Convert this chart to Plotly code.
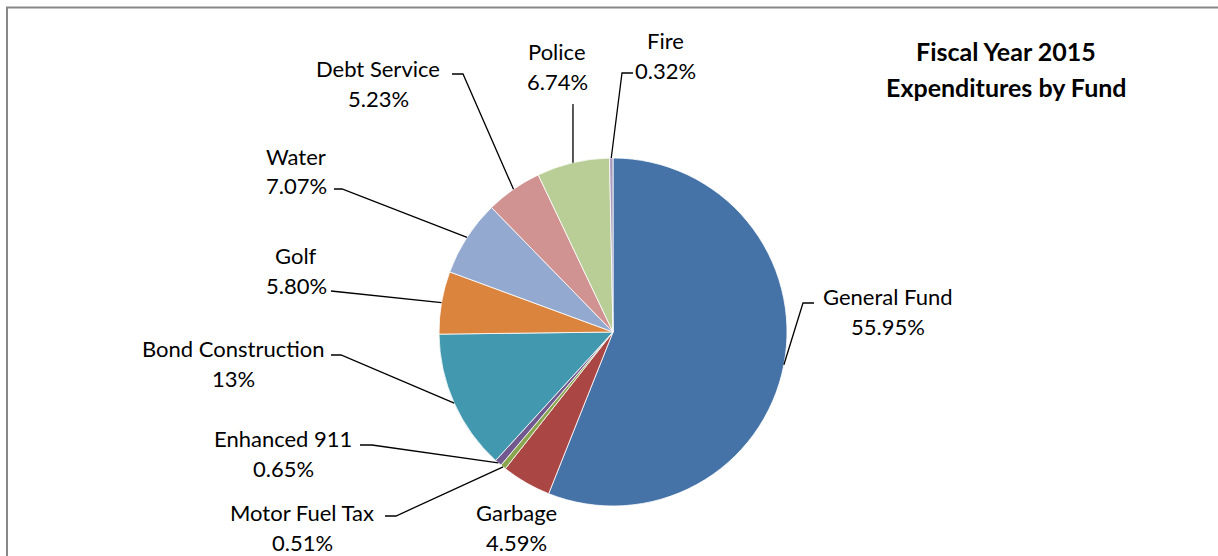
import math
import plotly.graph_objects as go

# Fund shares, clockwise from 12 o'clock
funds = ["General Fund", "Garbage", "Motor Fuel Tax", "Enhanced 911",
         "Bond Construction", "Golf", "Water", "Debt Service", "Police", "Fire"]
shares = [55.95, 4.59, 0.51, 0.65, 13.0, 5.80, 7.07, 5.23, 6.74, 0.32]
share_text = ["55.95%", "4.59%", "0.51%", "0.65%", "13%", "5.80%",
              "7.07%", "5.23%", "6.74%", "0.32%"]
colors = ["#4572A7", "#AA4643", "#89A54E", "#71588F", "#4198AF",
          "#DB843D", "#93A9CF", "#D19392", "#B9CD96", "#A99BBD"]

W, H = 1218, 556
CX, CY, R = 613, 332, 174  # pie centre and radius in pixels
LINE_GAP = 30              # spacing between the two label lines

# label centre (x, first-line y) and leader-line elbow points, in pixels
label_pos = {
    "General Fund": (888, 296),
    "Garbage": (516, 512),
    "Motor Fuel Tax": (302, 512),
    "Enhanced 911": (283, 438),
    "Bond Construction": (233, 348),
    "Golf": (296, 255),
    "Water": (296, 156),
    "Debt Service": (378, 68),
    "Police": (557, 52),
    "Fire": (665, 41),
}
leader_start = {
    "General Fund": [(814, 303), (803, 303)],
    "Motor Fuel Tax": [(385, 516), (396, 516)],
    "Enhanced 911": [(360, 445), (372, 445)],
    "Bond Construction": [(331, 355), (341, 355)],
    "Golf": [(331, 291)],
    "Water": [(334, 189), (342, 189)],
    "Debt Service": [(452, 74), (463, 74)],
    "Police": [(573, 104)],
    "Fire": [(633, 73), (622, 73)],
}

FONT = "Lato"


def px(x, y):
    return x / W, 1 - y / H


def text_at(x, y, text, size, bold=False):
    return dict(
        x=x / W, y=1 - y / H, xref="paper", yref="paper",
        text=f"<b>{text}</b>" if bold else text, showarrow=False,
        xanchor="center", yanchor="middle",
        font=dict(family=FONT, size=size, color="#000000"),
    )


fig = go.Figure(go.Pie(
    labels=funds, values=shares, sort=False, direction="clockwise",
    rotation=0, textinfo="none", hoverinfo="label+percent",
    marker=dict(colors=colors, line=dict(color="white", width=0.8)),
    domain=dict(x=[(CX - R) / W, (CX + R) / W],
                y=[1 - (CY + R) / H, 1 - (CY - R) / H]),
    showlegend=False,
))

total = sum(shares)
shapes = []
annotations = []
cum = 0.0
for name, val, txt in zip(funds, shares, share_text):
    mid = (cum + val / 2) / total * 2 * math.pi
    cum += val
    rim = (CX + R * math.sin(mid), CY - R * math.cos(mid))
    lx, ly = label_pos[name]
    annotations.append(text_at(lx, ly, name, 22))
    annotations.append(text_at(lx, ly + LINE_GAP, txt, 22))
    if name in leader_start:
        pts = leader_start[name] + [rim]
        path = "M " + " L ".join(f"{px(x, y)[0]},{px(x, y)[1]}" for x, y in pts)
        shapes.append(dict(type="path", xref="paper", yref="paper", path=path,
                           line=dict(color="#000000", width=1.3)))

# chart frame
shapes.append(dict(type="rect", xref="paper", yref="paper",
                   x0=7 / W, y0=-0.02, x1=1.02, y1=1 - 7.5 / H,
                   line=dict(color="#888888", width=2)))

annotations.append(text_at(1006, 51, "Fiscal Year 2015", 25, bold=True))
annotations.append(text_at(1006, 87, "Expenditures by Fund", 25, bold=True))

fig.update_layout(
    width=W, height=H, margin=dict(l=0, r=0, t=0, b=0),
    paper_bgcolor="white", plot_bgcolor="white",
    shapes=shapes, annotations=annotations,
)

fig.write_html("out.html")
